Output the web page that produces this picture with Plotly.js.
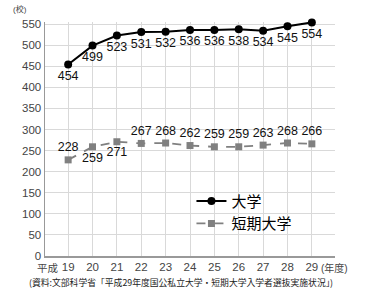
<!DOCTYPE html>
<html><head><meta charset="utf-8">
<script src="https://cdn.plot.ly/plotly-3.0.1.min.js"></script>
<style>html,body{margin:0;padding:0;background:#fff}</style>
</head><body>
<div id="chart" style="width:366px;height:290px"></div>
<script>
const years = [19,20,21,22,23,24,25,26,27,28,29];
const yearLabels = ['19','20','21','22','23','24','25','26','27','28','29'];
const univ = [454,499,523,531,532,536,536,538,534,545,554];
const junior = [228,259,271,267,268,262,259,259,263,268,266];
const juniorTextPos = ['top center','bottom center','bottom center','top center','top center','top center','top center','top center','top center','top center','top center'];
const univName = '大学';
const juniorName = '短期大学';
const yTicks = [0,50,100,150,200,250,300,350,400,450,500,550];

const jp = '"Liberation Sans", "Noto Sans CJK JP", sans-serif';

const traces = [
  {x: years, y: univ, name: univName, type: 'scatter', mode: 'lines+markers+text',
   line: {color: '#000', width: 2}, marker: {symbol: 'circle', size: 8, color: '#000'},
   text: univ.map(String), textposition: 'bottom center',
   textfont: {family: jp, size: 12.5, color: '#111'}, cliponaxis: false},
  {x: years, y: junior, name: juniorName, type: 'scatter', mode: 'lines+markers+text',
   line: {color: '#808080', width: 1.8, dash: 'dash'}, marker: {symbol: 'square', size: 7, color: '#808080'},
   text: junior.map(String), textposition: juniorTextPos,
   textfont: {family: jp, size: 12.5, color: '#111'}, cliponaxis: false}
];

const layout = {
  width: 366, height: 290,
  margin: {l: 45, r: 31, t: 22, b: 34},
  paper_bgcolor: '#fff', plot_bgcolor: '#fff',
  font: {family: jp, color: '#444'},
  showlegend: true,
  legend: {x: 0.505, y: 0.305, xanchor: 'left', yanchor: 'top', bgcolor: 'rgba(0,0,0,0)',
           font: {family: '"Noto Sans CJK JP", sans-serif', size: 15, color: '#000'},
           tracegroupgap: 0, itemwidth: 30},
  xaxis: {range: [18.05, 29.95], tickmode: 'array', tickvals: years, ticktext: yearLabels,
          showgrid: true, gridcolor: '#d9d9d9', gridwidth: 1, zeroline: false,
          showline: true, linecolor: '#999', linewidth: 1.5, ticks: '',
          tickfont: {size: 11.5, color: '#444'}, fixedrange: true},
  yaxis: {range: [0, 555], tickmode: 'array', tickvals: yTicks,
          showgrid: true, gridcolor: '#d9d9d9', gridwidth: 1, zeroline: false,
          showline: true, linecolor: '#999', linewidth: 1.5, ticks: '',
          tickfont: {size: 11.5, color: '#444'}, fixedrange: true},
  annotations: [
    {text: '(校)', xref: 'paper', yref: 'paper', x: -0.085, y: 1.0, yshift: 6, xanchor: 'center', yanchor: 'bottom',
     showarrow: false, font: {size: 8, color: '#444'}},
    {text: '平成', xref: 'x', yref: 'paper', x: 19, xshift: -7, y: 0, yshift: -4, xanchor: 'right', yanchor: 'top',
     showarrow: false, font: {size: 10.5, color: '#444'}},
    {text: '(年度)', xref: 'x', yref: 'paper', x: 29, xshift: 7, y: 0, yshift: -4, xanchor: 'left', yanchor: 'top',
     showarrow: false, font: {size: 10, color: '#444'}},
    {text: '(資料:文部科学省「平成29年度国公私立大学・短期大学入学者選抜実施状況」)', xref: 'paper', yref: 'paper',
     x: 0.47, y: 0, yshift: -18, xanchor: 'center', yanchor: 'top',
     showarrow: false, font: {family: '"Noto Sans CJK JP", sans-serif', size: 8.8, color: '#222'}}
  ]
};

Plotly.newPlot('chart', traces, layout, {displayModeBar: false, staticPlot: true});
</script>
</body></html>
